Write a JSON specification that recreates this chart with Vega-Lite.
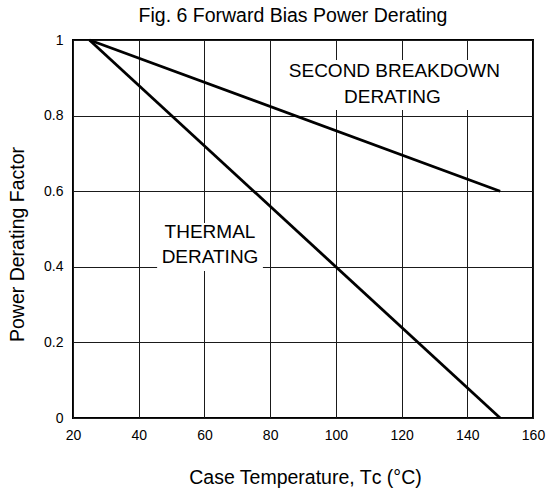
{
  "$schema": "https://vega.github.io/schema/vega-lite/v6.json",
  "width": 460,
  "height": 378,
  "autosize": {"type": "none"},
  "padding": {"left": 73, "top": 40, "right": 15, "bottom": 78},
  "background": "white",
  "title": {
    "text": "Fig. 6 Forward Bias Power Derating",
    "font": "Liberation Sans",
    "fontSize": 19.5,
    "fontWeight": "normal",
    "color": "black",
    "offset": 7,
    "dx": -10
  },
  "config": {
    "view": {"stroke": "black", "strokeWidth": 2},
    "axis": {
      "labelFont": "Liberation Sans",
      "labelFontSize": 14,
      "labelColor": "black",
      "titleFont": "Liberation Sans",
      "titleColor": "black",
      "titleFontWeight": "normal",
      "ticks": false,
      "domain": false,
      "labelOverlap": false,
      "gridColor": "#1a1a1a",
      "gridOpacity": 1,
      "gridWidth": 1
    }
  },
  "datasets": {
    "curves": [
      {"series": "Thermal", "temp": 25, "factor": 1.0},
      {"series": "Thermal", "temp": 150, "factor": 0.0},
      {"series": "Second Breakdown", "temp": 25, "factor": 1.0},
      {"series": "Second Breakdown", "temp": 150, "factor": 0.6}
    ],
    "boxes": [
      {"x1": 82.4, "x2": 151.8, "y1": 0.815, "y2": 0.947},
      {"x1": 45.6, "x2": 77.8, "y1": 0.389, "y2": 0.516}
    ],
    "labels": [
      {"label": "SECOND BREAKDOWN", "x": 117.8, "y": 0.918},
      {"label": "DERATING", "x": 117.2, "y": 0.850},
      {"label": "THERMAL", "x": 61.7, "y": 0.491},
      {"label": "DERATING", "x": 61.7, "y": 0.427}
    ]
  },
  "layer": [
    {
      "data": {"name": "boxes"},
      "mark": {"type": "rect", "fill": "white", "stroke": null},
      "encoding": {
        "x": {
          "field": "x1",
          "type": "quantitative",
          "scale": {"domain": [20, 160], "nice": false},
          "axis": {
            "values": [20, 30, 40, 50, 60, 70, 80, 90, 100, 110, 120, 130, 140, 150, 160],
            "labelExpr": "datum.value % 20 == 0 ? datum.label : ''",
            "labelFlush": false,
            "labelPadding": 10,
            "title": "Case Temperature, Tᴄ (°C)",
            "titleFontSize": 19.5,
            "titlePadding": 26,
            "titleX": 232
          }
        },
        "x2": {"field": "x2"},
        "y": {
          "field": "y1",
          "type": "quantitative",
          "scale": {"domain": [0, 1], "nice": false},
          "axis": {
            "values": [0, 0.1, 0.2, 0.3, 0.4, 0.5, 0.6, 0.7, 0.8, 0.9, 1],
            "labelExpr": "round(datum.value * 10) % 2 == 0 ? format(datum.value, '~g') : ''",
            "labelPadding": 10,
            "title": "Power Derating Factor",
            "titleFontSize": 19.5,
            "titlePadding": 16,
            "titleY": 204
          }
        },
        "y2": {"field": "y2"}
      }
    },
    {
      "data": {"name": "curves"},
      "mark": {"type": "line", "color": "black", "strokeWidth": 2.8},
      "encoding": {
        "x": {"field": "temp", "type": "quantitative"},
        "y": {"field": "factor", "type": "quantitative"},
        "detail": {"field": "series"}
      }
    },
    {
      "data": {"name": "labels"},
      "mark": {"type": "text", "font": "Liberation Sans", "fontSize": 19, "color": "black", "align": "center", "baseline": "middle"},
      "encoding": {
        "x": {"field": "x", "type": "quantitative"},
        "y": {"field": "y", "type": "quantitative"},
        "text": {"field": "label"}
      }
    }
  ]
}
